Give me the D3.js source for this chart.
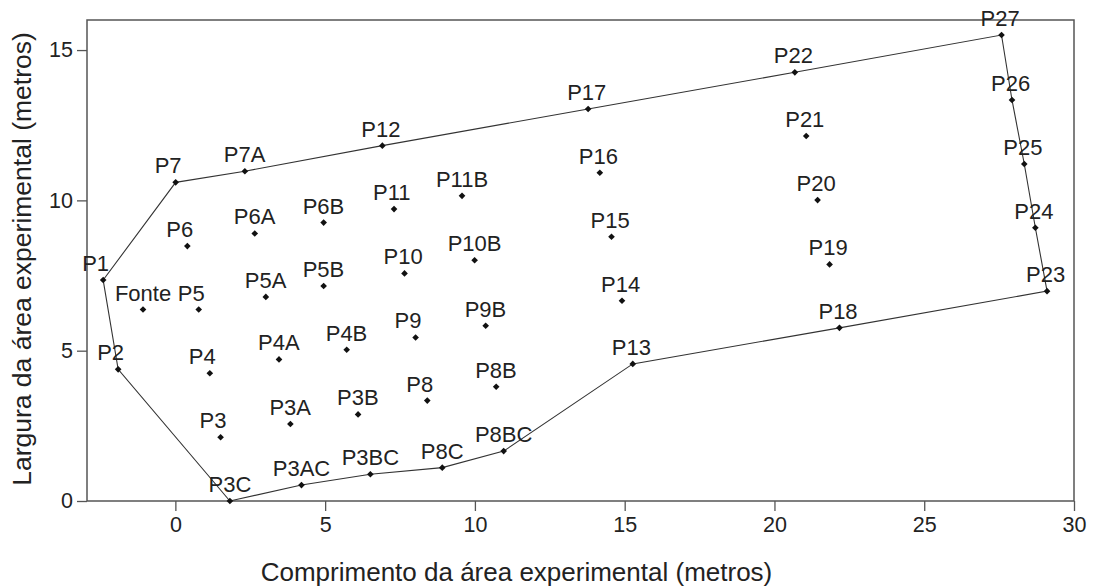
<!DOCTYPE html>
<html>
<head>
<meta charset="utf-8">
<script src="https://cdn.jsdelivr.net/npm/d3@7"></script>
<style>
  body { margin: 0; background: #fff; }
  text { font-family: "Liberation Sans", Arial, sans-serif; fill: #222; }
</style>
</head>
<body>
<div id="chart"></div>
<script>
// point names and coordinates (metros)
var names = ["P1","P2","P3C","P3AC","P3BC","P8C","P8BC","P13","P18","P23","P24","P25","P26","P27",
  "P22","P17","P12","P7A","P7",
  "Fonte","P5","P6","P6A","P6B","P5A","P5B","P4","P4A","P4B","P3","P3A","P3B",
  "P8","P8B","P9","P9B","P10","P10B","P11","P11B",
  "P14","P15","P16","P19","P20","P21"];
var xs = [-2.41,-1.91,1.82,4.21,6.51,8.91,10.96,15.27,22.17,29.1,28.71,28.34,27.93,27.58,
  20.68,13.78,6.91,2.32,0.01,
  -1.08,0.78,0.40,2.65,4.95,3.02,4.95,1.15,3.46,5.72,1.51,3.84,6.10,
  8.41,10.71,8.02,10.36,7.65,9.99,7.30,9.57,
  14.91,14.56,14.17,21.84,21.44,21.06];
var ys = [7.35,4.38,0.0,0.53,0.89,1.11,1.66,4.56,5.76,6.98,9.09,11.21,13.34,15.5,
  14.26,13.04,11.82,10.97,10.6,
  6.37,6.37,8.48,8.9,9.26,6.79,7.15,4.25,4.71,5.03,2.12,2.56,2.88,
  3.34,3.80,5.44,5.83,7.57,8.01,9.71,10.15,
  6.66,8.79,10.92,7.87,10.01,12.14];

// boundary of the experimental area, in order
var boundary = ["P1","P7","P7A","P12","P17","P22","P27","P26","P25","P24","P23",
  "P18","P13","P8BC","P8C","P3BC","P3AC","P3C","P2","P1"];

var xTicks = [0, 5, 10, 15, 20, 25, 30];
var yTicks = [0, 5, 10, 15];

var W = 1094, H = 588;
var m = { left: 87, right: 20, top: 20, bottom: 87 };

var svg = d3.select("#chart").append("svg").attr("width", W).attr("height", H);

var x = d3.scaleLinear().domain([-2.95, 30]).range([m.left, W - m.right]);
var y = d3.scaleLinear().domain([0, 16]).range([H - m.bottom, m.top]);

var pts = names.map(function (n, i) { return { name: n, x: xs[i], y: ys[i] }; });
var byName = {};
pts.forEach(function (p) { byName[p.name] = p; });

// frame
svg.append("rect")
  .attr("x", m.left).attr("y", m.top)
  .attr("width", W - m.right - m.left).attr("height", H - m.bottom - m.top)
  .attr("fill", "none").attr("stroke", "#555").attr("stroke-width", 1.5);

var xAxis = svg.append("g")
  .attr("transform", "translate(0," + (H - m.bottom) + ")")
  .call(d3.axisBottom(x).tickValues(xTicks).tickSize(10).tickPadding(6));
var yAxis = svg.append("g")
  .attr("transform", "translate(" + m.left + ",0)")
  .call(d3.axisLeft(y).tickValues(yTicks).tickSize(10).tickPadding(4));

[xAxis, yAxis].forEach(function (a) {
  a.select(".domain").remove();
  a.selectAll("line").attr("stroke", "#555").attr("stroke-width", 1.3);
  a.selectAll("text").style("font-size", "21.5px").attr("fill", "#222");
});

// axis titles
svg.append("text")
  .attr("x", 516.5).attr("y", 581)
  .attr("text-anchor", "middle")
  .style("font-size", "26px")
  .text("Comprimento da área experimental (metros)");

svg.append("text")
  .attr("transform", "translate(31,259) rotate(-90)")
  .attr("text-anchor", "middle")
  .style("font-size", "26.5px")
  .text("Largura da área experimental (metros)");

// boundary line
var line = d3.line()
  .x(function (d) { return x(d.x); })
  .y(function (d) { return y(d.y); });

svg.append("path")
  .datum(boundary.map(function (n) { return byName[n]; }))
  .attr("d", line)
  .attr("fill", "none")
  .attr("stroke", "#333")
  .attr("stroke-width", 1.1);

// markers: small square turned 45 degrees
svg.selectAll(".pt")
  .data(pts)
  .enter().append("path")
  .attr("class", "pt")
  .attr("transform", function (d) { return "translate(" + x(d.x) + "," + y(d.y) + ") rotate(45)"; })
  .attr("d", d3.symbol().type(d3.symbolSquare).size(22))
  .attr("fill", "#111");

// labels: left edge about 21px left of the point, long names centred
var labels = svg.selectAll(".lbl")
  .data(pts)
  .enter().append("text")
  .attr("class", "lbl")
  .style("font-size", "22px")
  .attr("y", function (d) { return y(d.y) - 9; })
  .text(function (d) { return d.name; });

labels.attr("x", function (d) {
  var w = this.getComputedTextLength();
  return x(d.x) - Math.max(21, w / 2);
});
</script>
</body>
</html>
